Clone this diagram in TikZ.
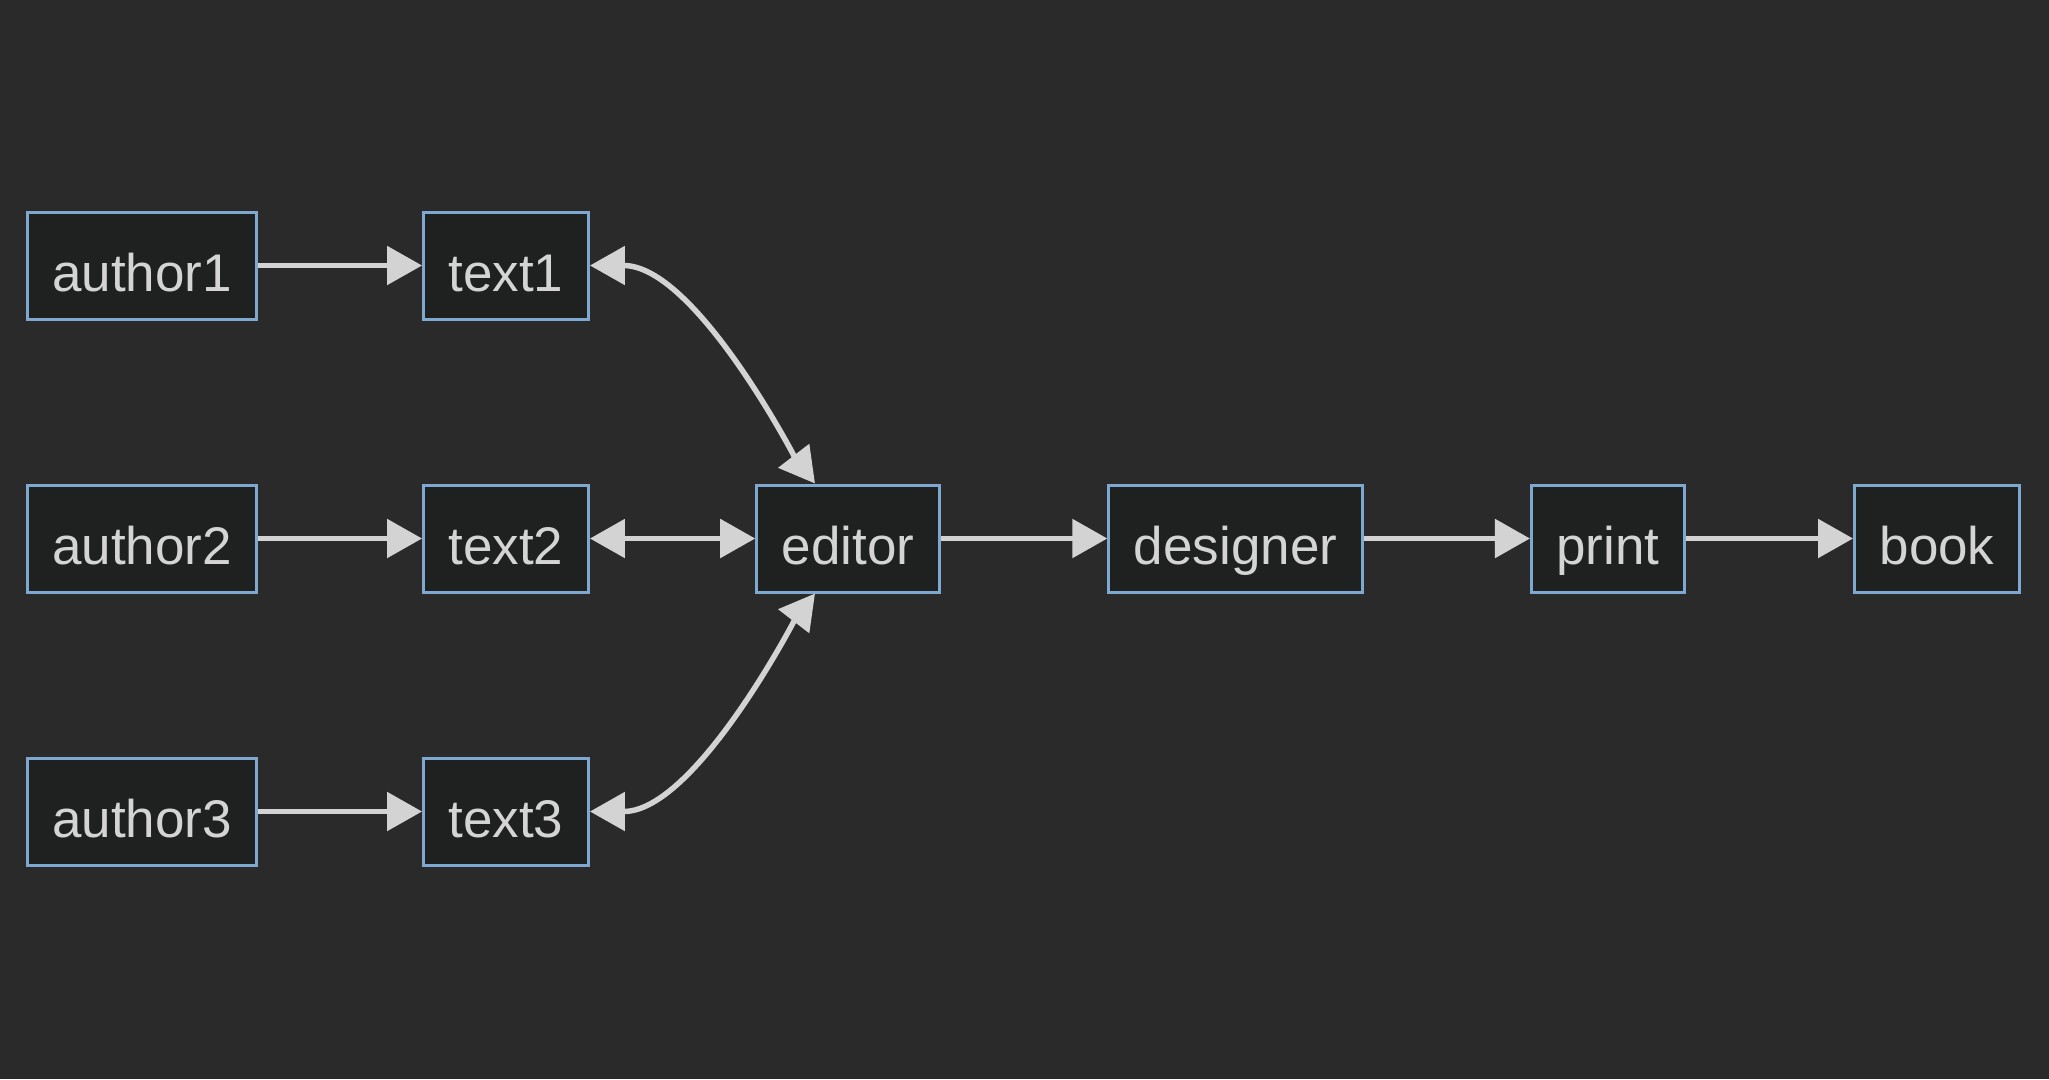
\documentclass[tikz,border=0pt]{standalone}
\usepackage{fontspec}
\setmainfont{Liberation Sans}
\usetikzlibrary{arrows.meta}
\definecolor{bgc}{RGB}{42,42,42}
\definecolor{boxfill}{RGB}{31,32,32}
\definecolor{boxline}{RGB}{126,168,208}
\definecolor{txt}{RGB}{212,212,212}
\definecolor{edge}{RGB}{211,211,211}
\begin{document}
\begin{tikzpicture}[x=1pt,y=-1pt,
  box/.style={draw=boxline,fill=boxfill,line width=3pt,text=txt,
    font=\fontsize{53}{63}\selectfont,minimum height=107pt,inner xsep=25pt,
    inner ysep=0pt,text height=52pt,text depth=0pt},
  conn/.style={draw=edge,line width=5.5pt,-{Triangle[length=35pt,width=38pt]}},
  conn2/.style={draw=edge,line width=5.5pt,{Triangle[length=35pt,width=38pt]}-{Triangle[length=35pt,width=38pt]}}]
\fill[bgc] (0,0) rectangle (2049,1079);
\useasboundingbox (0,0) rectangle (2049,1079);
\node[box] (author1) at (142,265.5) {author1};
\node[box] (author2) at (142,538.5) {author2};
\node[box] (author3) at (142,811.5) {author3};
\node[box] (text1) at (506,265.5) {text1};
\node[box] (text2) at (506,538.5) {text2};
\node[box] (text3) at (506,811.5) {text3};
\node[box] (editor) at (848,538.5) {editor};
\node[box] (designer) at (1235.5,538.5) {designer};
\node[box] (print) at (1608,538.5) {print};
\node[box] (book) at (1937,538.5) {book};
\coordinate (etop) at ([xshift=-33pt]editor.north);
\coordinate (ebot) at ([xshift=-33pt]editor.south);
\draw[conn] (author1) -- (text1);
\draw[conn] (author2) -- (text2);
\draw[conn] (author3) -- (text3);
\draw[conn2] (text2) -- (editor);
\draw[conn2] (text1.east) .. controls +(105,0) and +(-20,-26) .. (etop);
\draw[conn2] (text3.east) .. controls +(105,0) and +(-20,26) .. (ebot);
\draw[conn] (editor) -- (designer);
\draw[conn] (designer) -- (print);
\draw[conn] (print) -- (book);
\end{tikzpicture}
\end{document}
